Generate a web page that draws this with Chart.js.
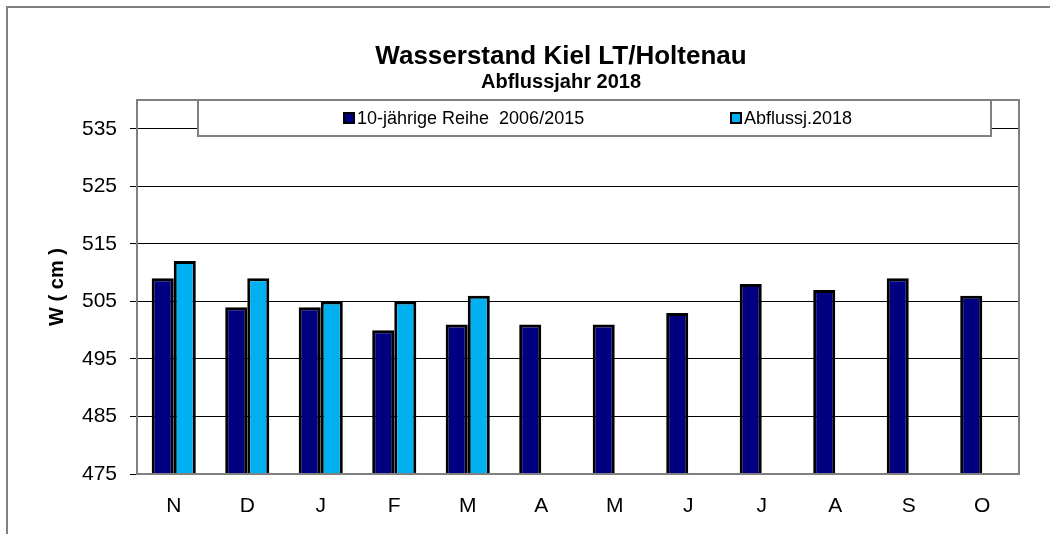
<!DOCTYPE html>
<html>
<head>
<meta charset="utf-8">
<script src="https://cdn.jsdelivr.net/npm/chart.js@4.4.1/dist/chart.umd.min.js"></script>
<style>
  body { margin: 0; background: #fff; }
  #wrap { width: 1050px; height: 534px; position: relative; }
</style>
</head>
<body>
<div id="wrap"><canvas id="chart" width="1050" height="534"></canvas></div>
<script>
// data
const months = ['N', 'D', 'J', 'F', 'M', 'A', 'M', 'J', 'J', 'A', 'S', 'O'];
const reihe = [509, 504, 504, 500, 501, 501, 501, 503, 508, 507, 509, 506];
const jahr2018 = [512, 509, 505, 505, 506, null, null, null, null, null, null, null];
const yTicks = [475, 485, 495, 505, 515, 525, 535];
const seriesNames = ['10-jährige Reihe  2006/2015', 'Abflussj.2018'];
const seriesColors = ['#000080', '#00B0F0'];

const FONT = 'Arial, "Liberation Sans", sans-serif';

// titles, legend box and frames drawn by hand (Excel style)
const decor = {
    id: 'decor',
    beforeDraw(chart) {
        const c = chart.ctx;
        c.save();
        // outer frame (only left/top visible)
        c.strokeStyle = '#808080';
        c.lineWidth = 2;
        c.beginPath();
        c.moveTo(7, 540);
        c.lineTo(7, 7);
        c.lineTo(1060, 7);
        c.stroke();
        // titles
        c.fillStyle = '#000';
        c.textAlign = 'center';
        c.textBaseline = 'alphabetic';
        c.font = 'bold 26px ' + FONT;
        c.fillText('Wasserstand Kiel LT/Holtenau', 561, 64);
        c.font = 'bold 20px ' + FONT;
        c.fillText('Abflussjahr 2018', 561, 88);
        c.restore();
    },
    afterDatasetsDraw(chart) {
        const c = chart.ctx;
        const a = chart.chartArea;
        c.save();
        // plot area border
        c.strokeStyle = '#808080';
        c.lineWidth = 2;
        c.strokeRect(a.left, a.top, a.right - a.left, a.bottom - a.top);
        // legend box
        c.fillStyle = '#fff';
        c.fillRect(198, 100, 793, 36);
        c.strokeRect(198, 100, 793, 36);
        const xs = [344, 731];
        c.font = '18px ' + FONT;
        c.textBaseline = 'middle';
        c.textAlign = 'left';
        chart.data.datasets.forEach((ds, i) => {
            c.fillStyle = ds.backgroundColor;
            c.fillRect(xs[i], 113, 10, 10);
            c.strokeStyle = '#000';
            c.lineWidth = 2;
            c.strokeRect(xs[i], 113, 10, 10);
            c.fillStyle = '#000';
            c.fillText(ds.label, xs[i] + 13, 119);
        });
        c.restore();
    }
};

const ctx = document.getElementById('chart').getContext('2d');
const chart = new Chart(ctx, {
    type: 'bar',
    data: {
        labels: months,
        datasets: [
            { label: seriesNames[0], data: reihe, backgroundColor: seriesColors[0], borderColor: '#000', borderWidth: 3, borderSkipped: false, inflateAmount: 0 },
            { label: seriesNames[1], data: jahr2018, backgroundColor: seriesColors[1], borderColor: '#000', borderWidth: 3, borderSkipped: false, inflateAmount: 0 }
        ]
    },
    options: {
        responsive: false,
        animation: false,
        layout: { padding: { left: 0, right: 31, top: 100, bottom: 0 } },
        datasets: { bar: { categoryPercentage: 0.6, barPercentage: 1.0 } },
        plugins: {
            legend: { display: false },
            title: { display: false },
            tooltip: { enabled: false }
        },
        scales: {
            x: {
                grid: { display: false, drawTicks: false },
                border: { display: false },
                ticks: { color: '#000', font: { family: FONT, size: 21 }, padding: 20, maxRotation: 0 },
                afterFit(scale) { scale.height = 60; }
            },
            y: {
                min: 475,
                max: 540,
                afterBuildTicks(scale) { scale.ticks = yTicks.map(v => ({ value: v })); },
                grid: {
                    color: '#000',
                    lineWidth: 1,
                    borderDash: [1, 1],
                    tickLength: 7,
                    tickColor: '#000',
                    tickBorderDash: []
                },
                border: { display: false },
                ticks: { color: '#000', font: { family: FONT, size: 21 }, padding: 13 },
                title: {
                    display: true,
                    text: 'W ( cm )',
                    color: '#000',
                    font: { family: FONT, size: 20, weight: 'bold' },
                    padding: { top: 45, bottom: 0 }
                },
                afterFit(scale) { scale.width = 137; }
            }
        }
    },
    plugins: [decor]
});
</script>
</body>
</html>
